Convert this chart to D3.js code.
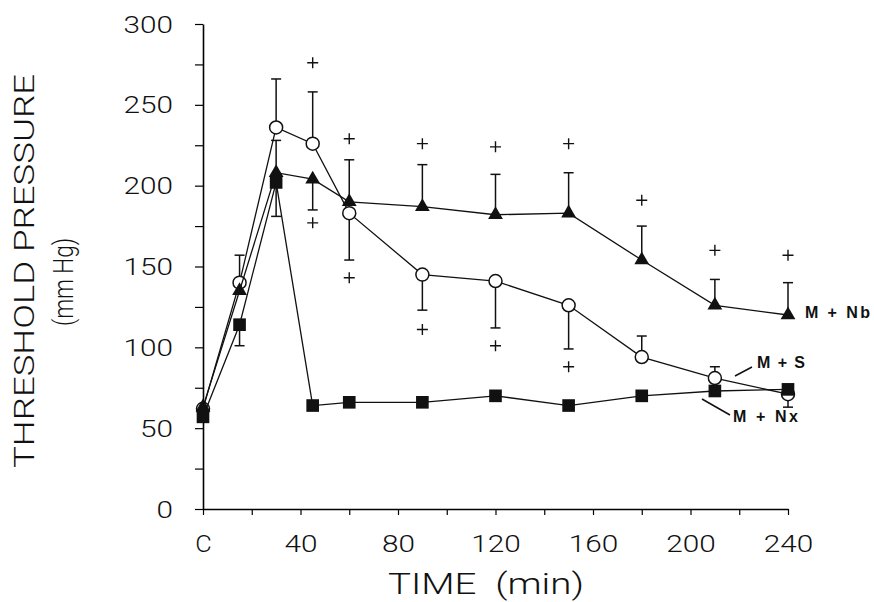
<!DOCTYPE html>
<html>
<head>
<meta charset="utf-8">
<script src="https://cdn.jsdelivr.net/npm/d3@7"></script>
<style>
  body { margin: 0; background: #fff; }
  svg { display: block; }
</style>
</head>
<body>
<svg id="chart" width="874" height="602"></svg>
<script>
// thời điểm đo (phút), 0 = đối chứng "C"
const times = [0, 15, 30, 45, 60, 90, 120, 150, 180, 210, 240];

// ba nhóm: M + S (tròn rỗng), M + Nb (tam giác), M + Nx (vuông)
const mS  = [62, 140, 236, 226, 183, 145, 141, 126, 94, 81, 71];
const mNb = [63, 135, 208, 204, 190, 187, 182, 183, 154, 126, 120];
const mNx = [57, 114, 202, 64, 66, 66, 70, 64, 70, 73, 74];

// sai số chuẩn, dấu = hướng vẽ (+ lên, - xuống), 0 = không vẽ
const mSSe  = [0, 17, 30, 32, -29, -22, -29, -27, 13, 7, -8];
const mNbSe = [0, 0, 20, -19, 26, 26, 25, 25, 21, 16, 20];
const mNxSe = [0, -13, -21, 0, 0, 0, 0, 0, 0, 0, 0];

// dấu "+" (khác biệt có ý nghĩa)
const plusT = [45, 45, 60, 60, 90, 90, 120, 120, 150, 150, 180, 210, 240];
const plusV = [276, 177, 229, 143, 226, 111, 224, 101, 226, 88, 191, 160, 157];

const xTicks = d3.range(0, 241, 20);
const yTicks = d3.range(0, 301, 25);

const svg = d3.select("#chart");
const x = d3.scaleLinear().domain([0, 240]).range([203, 788]);
const y = d3.scaleLinear().domain([0, 300]).range([509, 24]);

// chữ mảnh kiểu máy vẽ
const thin = "Roboto, 'DejaVu Sans', sans-serif";

function thinText(sel, size) {
    sel.style("font-family", thin).style("font-size", size + "px")
        .style("font-weight", 300)
        .attr("fill", "#111")
        .attr("lengthAdjust", "spacingAndGlyphs");
}

// Trục X
const xAxis = svg.append("g")
    .attr("transform", `translate(0,${y(0)})`)
    .call(d3.axisBottom(x).tickValues(xTicks).tickSizeInner(6).tickSizeOuter(0)
        .tickFormat(d => d % 40 === 0 ? (d === 0 ? "C" : d) : ""));
xAxis.select(".domain").attr("stroke-width", 1.6);
xAxis.selectAll(".tick line").attr("stroke-width", 1.2);
xAxis.selectAll("text")
    .attr("y", 43).attr("dy", null)
    .call(thinText, 23)
    .attr("textLength", function() { return this.textContent.length * 16.5; });

// Trục Y
const yAxis = svg.append("g")
    .attr("transform", `translate(${x(0)},0)`)
    .call(d3.axisLeft(y).tickValues(yTicks).tickSizeInner(8).tickSizeOuter(0)
        .tickFormat(d => d % 50 === 0 ? d : ""));
yAxis.select(".domain").attr("stroke-width", 1.6);
yAxis.selectAll(".tick line").attr("stroke-width", 1.2);
yAxis.selectAll("text")
    .attr("x", -30).attr("dy", null).attr("y", 8)
    .call(thinText, 23)
    .attr("textLength", function() { return this.textContent.length * 16.5; });

// Nhãn trục
svg.append("text")
    .attr("x", 486).attr("y", 594)
    .attr("text-anchor", "middle")
    .call(thinText, 30)
    .attr("textLength", 196)
    .text("TIME\u00a0\u00a0(min)");

svg.append("text")
    .attr("transform", "translate(34,271) rotate(-90)")
    .attr("text-anchor", "middle")
    .call(thinText, 28)
    .attr("textLength", 394)
    .text("THRESHOLD PRESSURE");

svg.append("text")
    .attr("transform", "translate(73,282) rotate(-90)")
    .attr("text-anchor", "middle")
    .call(thinText, 27)
    .attr("textLength", 88)
    .text("(mm Hg)");

// Dữ liệu theo nhóm
const series = [
    { vals: mS,  se: mSSe,  shape: "circle" },
    { vals: mNb, se: mNbSe, shape: "triangle" },
    { vals: mNx, se: mNxSe, shape: "square" }
];

const line = d3.line().x(d => x(d[0])).y(d => y(d[1]));

series.forEach(s => {
    const pts = times.map((t, i) => [t, s.vals[i], s.se[i]]);
    const g = svg.append("g");

    // thanh sai số
    pts.filter(p => p[2] !== 0).forEach(p => {
        const end = y(p[1] + p[2]);
        g.append("line")
            .attr("x1", x(p[0])).attr("x2", x(p[0]))
            .attr("y1", y(p[1])).attr("y2", end)
            .attr("stroke", "#111").attr("stroke-width", 1.5);
        g.append("line")
            .attr("x1", x(p[0]) - 5).attr("x2", x(p[0]) + 5)
            .attr("y1", end).attr("y2", end)
            .attr("stroke", "#111").attr("stroke-width", 1.5);
    });

    g.append("path")
        .attr("d", line(pts))
        .attr("fill", "none")
        .attr("stroke", "#111")
        .attr("stroke-width", 1.3);

    const m = g.selectAll(".pt").data(pts).enter();
    if (s.shape === "circle") {
        m.append("circle")
            .attr("cx", d => x(d[0])).attr("cy", d => y(d[1]))
            .attr("r", 6.5)
            .attr("fill", "#fff").attr("stroke", "#111").attr("stroke-width", 1.5);
    } else {
        const sym = s.shape === "triangle"
            ? d3.symbol(d3.symbolTriangle, 95)
            : d3.symbol(d3.symbolSquare, 160);
        m.append("path")
            .attr("d", sym)
            .attr("transform", d => `translate(${x(d[0])},${y(d[1])})`)
            .attr("fill", "#111");
    }
});

// dấu +
svg.append("g").selectAll("path")
    .data(plusT.map((t, i) => [t, plusV[i]]))
    .enter().append("path")
    .attr("d", d => {
        const cx = x(d[0]), cy = y(d[1]);
        return `M${cx - 5.5},${cy}H${cx + 5.5}M${cx},${cy - 5.5}V${cy + 5.5}`;
    })
    .attr("stroke", "#111").attr("stroke-width", 1.4).attr("fill", "none");

// Chú thích nhóm
const sans = "'Liberation Sans', Arial, sans-serif";
const labels = [
    { text: "M + Nb", x: 805, y: 318, len: 65 },
    { text: "M + S",  x: 757, y: 368, len: 48 },
    { text: "M + Nx", x: 733, y: 422, len: 65 }
];
svg.append("g").selectAll("text").data(labels).enter().append("text")
    .attr("x", d => d.x).attr("y", d => d.y)
    .style("font-family", sans).style("font-size", "16px").style("font-weight", "bold")
    .attr("fill", "#111")
    .attr("textLength", d => d.len).attr("lengthAdjust", "spacing")
    .text(d => d.text);

// đường dẫn tới nhãn
svg.append("path")
    .attr("d", "M735,376L752,367M702,399L730,415")
    .attr("stroke", "#111").attr("stroke-width", 1.5).attr("fill", "none");
</script>
</body>
</html>
